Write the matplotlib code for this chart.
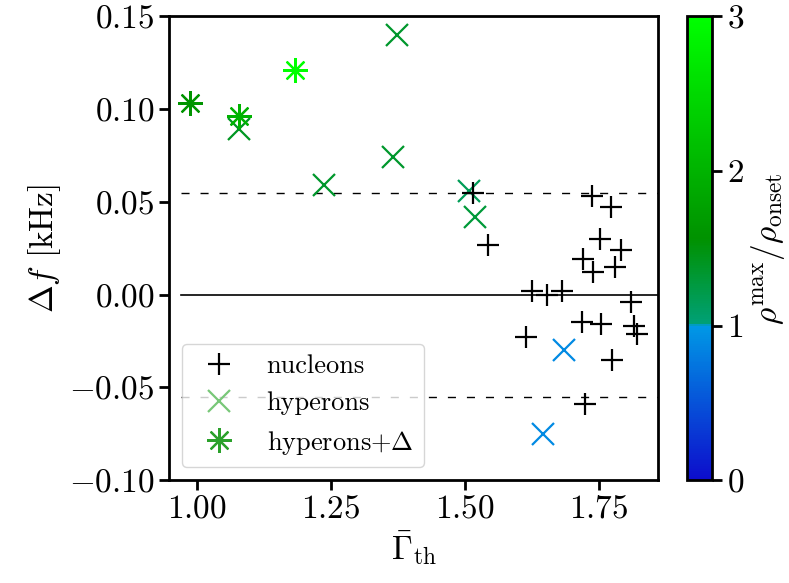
import matplotlib
matplotlib.use("Agg")
import matplotlib.pyplot as plt
from matplotlib.colors import LinearSegmentedColormap, Normalize
from matplotlib.cm import ScalarMappable

plt.rcParams.update({
    "font.family": "serif",
    "font.serif": ["cmr10"],
    "mathtext.fontset": "cm",
    "axes.formatter.use_mathtext": True,
    "axes.unicode_minus": True,
})

# nucleonic EOS
nuc_gamma = [1.516, 1.544, 1.737, 1.773, 1.753, 1.791, 1.721, 1.781, 1.740, 1.625,
             1.654, 1.681, 1.811, 1.719, 1.754, 1.817, 1.821, 1.615, 1.776, 1.724]
nuc_df = [0.055, 0.027, 0.053, 0.047, 0.030, 0.024, 0.019, 0.015, 0.012, 0.002,
          0.000, 0.002, -0.004, -0.015, -0.016, -0.017, -0.021, -0.023, -0.035, -0.059]

# hyperonic EOS
hyp_gamma = [1.078, 1.237, 1.374, 1.367, 1.508, 1.520, 1.685, 1.646]
hyp_df = [0.089, 0.059, 0.140, 0.074, 0.056, 0.042, -0.030, -0.075]
hyp_rho = [1.40, 1.35, 1.35, 1.35, 1.15, 1.30, 0.90, 0.90]

# hyperons + Delta
del_gamma = [0.987, 1.079, 1.183]
del_df = [0.103, 0.096, 0.121]
del_rho = [1.60, 2.00, 3.00]

cmap = LinearSegmentedColormap.from_list("rho", [
    (0.0, (0.05, 0.05, 0.80)),
    (0.333, (0.0, 0.60, 0.90)),
    (0.334, (0.0, 0.63, 0.47)),
    (0.52, (0.0, 0.57, 0.0)),
    (1.0, (0.0, 1.0, 0.0)),
])
norm = Normalize(0, 3)

fig = plt.figure(figsize=(7.89, 5.83), dpi=100)
ax = fig.add_axes([0.2142, 0.1762, 0.6198, 0.796])
cax = fig.add_axes([0.8707, 0.1762, 0.0317, 0.796])

ax.plot([0.97, 1.9], [0.0, 0.0], color="k", lw=1.2, zorder=1)
ax.plot([0.97, 1.9], [0.055, 0.055], color="k", lw=1.0, ls=(0, (5.8, 7.9)), zorder=1)
ax.plot([0.97, 1.9], [-0.055, -0.055], color="k", lw=1.0, ls=(0, (5.8, 7.9)), zorder=1)

for g, d, r in zip(hyp_gamma, hyp_df, hyp_rho):
    ax.plot(g, d, ls="none", marker="x", ms=16, mew=1.6, color=cmap(norm(r)), zorder=2)
for g, d, r in zip(del_gamma, del_df, del_rho):
    ax.plot(g, d, ls="none", marker=(8, 2, 0), ms=18, mew=1.6, color=cmap(norm(r)), zorder=3)
ax.plot(nuc_gamma, nuc_df, ls="none", marker="+", ms=16, mew=1.6, color="k", zorder=4)

# legend handles
ax.plot([], [], ls="none", marker="+", ms=16, mew=1.6, color="k", label="nucleons")
ax.plot([], [], ls="none", marker="x", ms=16, mew=1.6, color=(0.47, 0.78, 0.47), label="hyperons")
ax.plot([], [], ls="none", marker=(8, 2, 0), ms=18, mew=1.6, color=(0.17, 0.63, 0.17),
        label=r"hyperons+$\Delta$")
ax.legend(loc="lower left", fontsize=19, handlelength=2.0, borderaxespad=0.5)

ax.set_xlim(0.948, 1.861)
ax.set_ylim(-0.10, 0.15)
ax.set_xticks([1.00, 1.25, 1.50, 1.75])
ax.set_yticks([-0.10, -0.05, 0.00, 0.05, 0.10, 0.15])
ax.xaxis.set_major_formatter(matplotlib.ticker.FormatStrFormatter("$%.2f$"))
ax.yaxis.set_major_formatter(matplotlib.ticker.FormatStrFormatter("$%.2f$"))
ax.tick_params(labelsize=24, width=2, length=7)
for sp in ax.spines.values():
    sp.set_linewidth(2)
ax.set_xlabel(r"$\bar{\Gamma}_{\rm th}$", fontsize=24)
ax.set_ylabel(r"$\Delta f$ [kHz]", fontsize=24)

cb = fig.colorbar(ScalarMappable(norm=norm, cmap=cmap), cax=cax, ticks=[0, 1, 2, 3])
cb.ax.tick_params(labelsize=24, width=2, length=7)
cb.outline.set_linewidth(2)
cb.set_label(r"$\rho^{\rm max}/\rho_{\rm onset}$", fontsize=24)

fig.savefig("out.png", dpi=100)
